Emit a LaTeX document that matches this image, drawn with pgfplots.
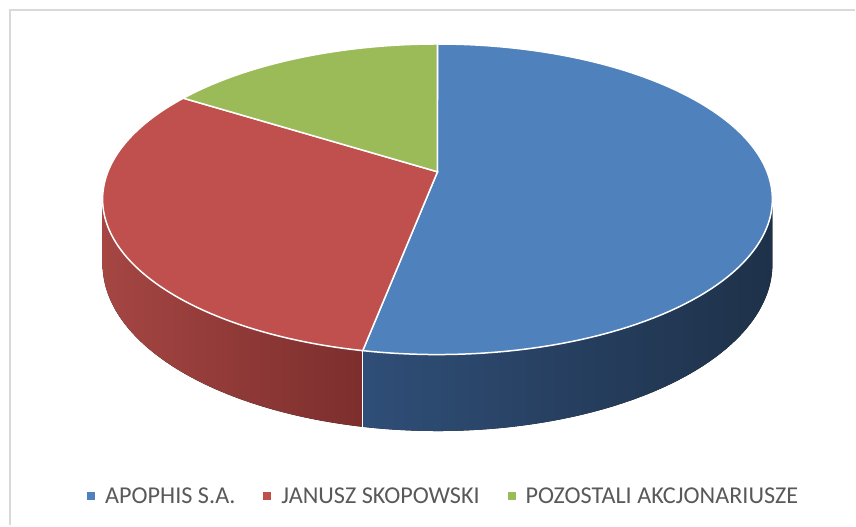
\documentclass[border=0pt]{standalone}
\usepackage{fontspec}
\setmainfont{Carlito}
\usepackage{pgfplots}
\pgfplotsset{compat=1.18}
\usepgfplotslibrary{fillbetween}
\definecolor{cBlue}{HTML}{4F81BD}
\definecolor{cRed}{HTML}{C0504D}
\definecolor{cGreen}{HTML}{9BBB59}
\definecolor{wBlueL}{HTML}{2F4E77}
\definecolor{wBlueD}{HTML}{1E3149}
\definecolor{wRedL}{HTML}{A54643}
\definecolor{wRedD}{HTML}{7C2E2D}
\definecolor{txt}{HTML}{595959}
\definecolor{frame}{HTML}{D9D9D9}
% shares (percent) of the three shareholders
\def\pA{53}
\def\pB{31}
\def\pC{16}
\pgfmathsetmacro{\tA}{90-3.6*\pA}      % end of blue slice
\pgfmathsetmacro{\tB}{\tA-3.6*\pB}     % end of red slice
\pgfmathsetmacro{\tG}{\tB+360}         % start of green slice
\begin{document}
\begin{tikzpicture}
\begin{axis}[
  scale only axis, width=856bp, height=526bp,
  xmin=0, xmax=856, ymin=0, ymax=526,
  hide axis, clip=false,
  declare function={
    PX(\t)=438+330*cos(\t)/(1+0.177*sin(\t));
    PY(\t)=354+150.6*sin(\t)/(1+0.177*sin(\t));
    PB(\t)=354+(150.6*sin(\t)-63)/(1+0.177*sin(\t));
  },
  legend columns=3,
  legend style={draw=none, fill=none, at={(0.519,0.056)}, anchor=center,
    font=\fontsize{24.3}{27}\selectfont\color{txt},
    /tikz/every even column/.append style={column sep=26bp}},
  legend cell align=left,
  legend image code/.code={\path[draw=none,fill=none] (0bp,0bp) -- (16bp,0bp);\fill[#1, draw=none] (0bp,-4bp) rectangle (8bp,4bp);},
]
\addlegendimage{fill=cBlue}\addlegendentry{APOPHIS S.A.}
\addlegendimage{fill=cRed}\addlegendentry{JANUSZ SKOPOWSKI}
\addlegendimage{fill=cGreen}\addlegendentry{POZOSTALI AKCJONARIUSZE}

% full canvas (invisible), so the picture is exactly the chart area
\addplot[forget plot, draw=none] coordinates {(0,0) (856,526)};
% chart frame
\addplot[forget plot, color=frame, line width=2bp] coordinates {(10,0) (10,516) (856,516)};

% side walls
\addplot[forget plot, draw=none, name path=bt, domain=\tA:-10.2, samples=80] ({PX(x)},{PY(x)});
\addplot[forget plot, draw=none, name path=bb, domain=\tA:-10.2, samples=80] ({PX(x)},{PB(x)});
\addplot[forget plot, left color=wBlueL, right color=wBlueD] fill between[of=bt and bb];
\addplot[forget plot, draw=none, name path=rt, domain=-169.8:\tA, samples=80] ({PX(x)},{PY(x)});
\addplot[forget plot, draw=none, name path=rb, domain=-169.8:\tA, samples=80] ({PX(x)},{PB(x)});
\addplot[forget plot, left color=wRedL, right color=wRedD] fill between[of=rt and rb];
\addplot[forget plot, white, line width=1.5bp, domain=0:1, samples=2]
  ({PX(\tA)},{PY(\tA)-x*(PY(\tA)-PB(\tA))});

% top face slices
\addplot[forget plot, fill=cBlue, draw=white, line width=1.5bp, domain=\tA:90, samples=120]
  ({PX(x)},{PY(x)}) -- (axis cs:438,354) -- cycle;
\addplot[forget plot, fill=cRed, draw=white, line width=1.5bp, domain=\tB:\tA, samples=80]
  ({PX(x)},{PY(x)}) -- (axis cs:438,354) -- cycle;
\addplot[forget plot, fill=cGreen, draw=white, line width=1.5bp, domain=90:\tG, samples=60]
  ({PX(x)},{PY(x)}) -- (axis cs:438,354) -- cycle;
\end{axis}
\end{tikzpicture}
\end{document}
